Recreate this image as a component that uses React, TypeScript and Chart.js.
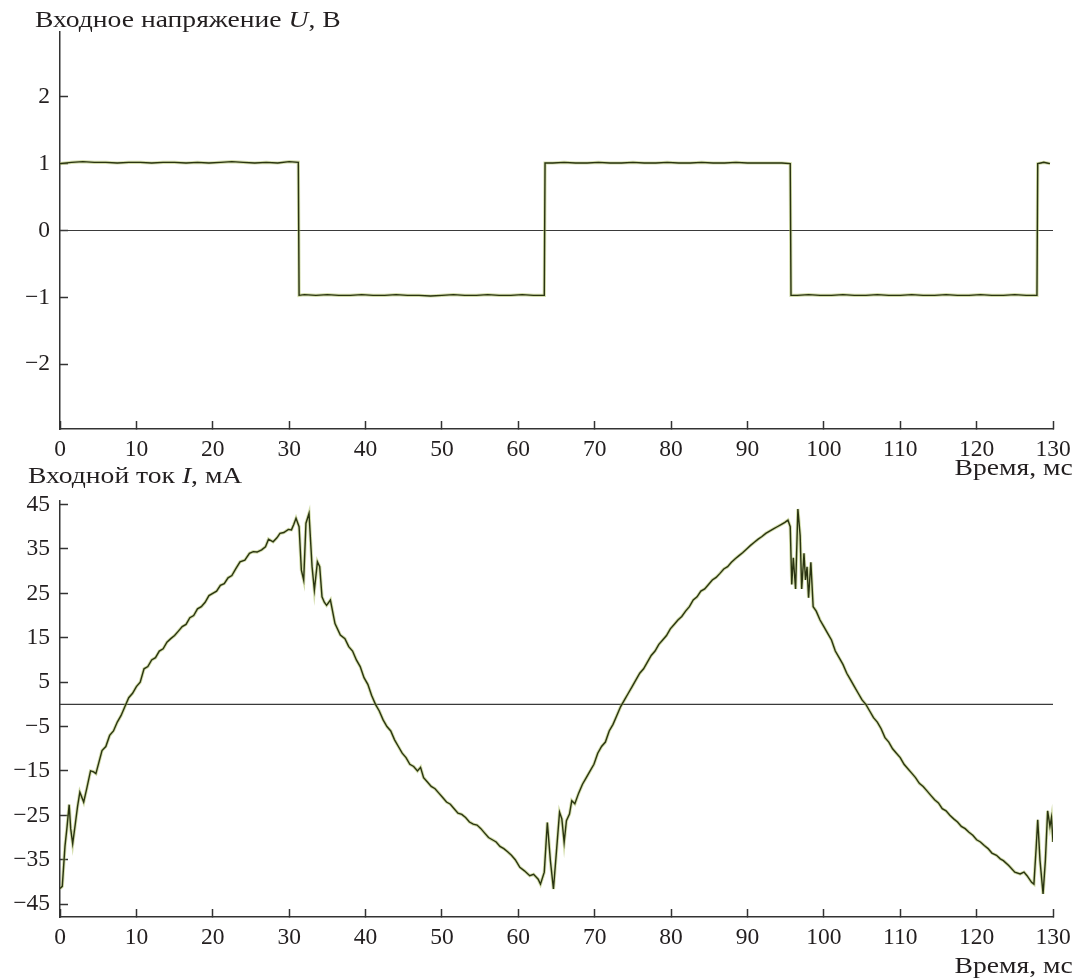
import React, { useEffect, useRef } from "react";
import { Chart, registerables } from "chart.js";

Chart.register(...registerables);

const FONT = "'Liberation Serif', 'Times New Roman', serif";
const TEXT = "#231f20";
const AXIS = "#333333";

const timeTicks = [0, 10, 20, 30, 40, 50, 60, 70, 80, 90, 100, 110, 120, 130];
const voltageTicks = [-2, -1, 0, 1, 2];
const currentTicks = [-45, -35, -25, -15, -5, 5, 15, 25, 35, 45];
const voltageRange = [-2.97, 2.97];
const currentRange = [-47.9, 45.8];

const voltageTime = [
  0, 1.5, 3, 4.5, 6, 7.5, 9, 10.5, 12, 13.5, 15, 16.5, 18, 19.5, 21, 22.5, 24, 25.5, 27, 28.5, 30, 31.2,
  31.3, 32, 33.5, 35, 36.5, 38, 39.5, 41, 42.5, 44, 45.5, 47, 48.5, 50, 51.5, 53, 54.5, 56, 57.5, 59, 60.5, 62, 63.4,
  63.5, 64.5, 66, 67.5, 69, 70.5, 72, 73.5, 75, 76.5, 78, 79.5, 81, 82.5, 84, 85.5, 87, 88.5, 90, 91.5, 93, 94.5, 95.6,
  95.7, 96.5, 98, 99.5, 101, 102.5, 104, 105.5, 107, 108.5, 110, 111.5, 113, 114.5, 116, 117.5, 119, 120.5, 122, 123.5, 125, 126.5, 127.9,
  128.0, 128.4, 128.8, 129.2, 129.6,
];
const voltageValues = [
  1.0, 1.02, 1.03, 1.02, 1.02, 1.01, 1.02, 1.02, 1.01, 1.02, 1.02, 1.01, 1.02, 1.01, 1.02, 1.03, 1.02, 1.01, 1.02, 1.01, 1.03, 1.02,
  -0.97, -0.96, -0.97, -0.96, -0.97, -0.97, -0.96, -0.97, -0.97, -0.96, -0.97, -0.97, -0.98, -0.97, -0.96, -0.97, -0.97, -0.96, -0.97, -0.97, -0.96, -0.97, -0.97,
  1.01, 1.01, 1.02, 1.01, 1.01, 1.02, 1.01, 1.01, 1.02, 1.01, 1.01, 1.02, 1.01, 1.01, 1.02, 1.01, 1.01, 1.02, 1.01, 1.01, 1.01, 1.01, 1.0,
  -0.97, -0.97, -0.96, -0.97, -0.97, -0.96, -0.97, -0.97, -0.96, -0.97, -0.97, -0.96, -0.97, -0.97, -0.96, -0.97, -0.97, -0.96, -0.97, -0.97, -0.96, -0.97, -0.97,
  1.0, 1.01, 1.02, 1.01, 1.0,
];

const currentTime = [
  0, 0.3, 0.65, 0.9, 1.2, 1.4, 1.66, 2.0, 2.3, 2.6, 3.1, 3.5, 4.0, 4.4, 4.7, 5.1, 5.5, 6.0, 6.5, 7.0, 7.5, 8.0, 8.5, 9.0, 9.5,
  10.0, 10.5, 11.0, 11.5, 12.0, 12.5, 13.0, 13.5, 14.0, 14.5, 15.0, 15.5, 16.0, 16.5, 17.0, 17.5, 18.0, 18.5, 19.0, 19.5,
  20.0, 20.5, 21.0, 21.5, 22.0, 22.5, 23.0, 23.57, 24.2, 24.8, 25.3, 25.8, 26.4, 26.9, 27.3, 27.9, 28.4, 28.8, 29.3, 29.9,
  30.3, 30.6, 30.9, 31.3, 31.6, 31.9, 32.2, 32.6, 33.0, 33.3, 33.7, 34.0, 34.3, 34.6, 34.9, 35.4, 36.0, 36.7, 37.3, 37.8,
  38.3, 38.8, 39.3, 39.8, 40.3, 40.8, 41.3, 41.8, 42.3, 42.8, 43.3, 43.8, 44.3, 44.8, 45.3, 45.8, 46.3, 46.8, 47.2, 47.6,
  48.1, 48.6, 49.1, 49.6, 50.1, 50.6, 51.1, 51.6, 52.1, 52.6, 53.1, 53.6, 54.1, 54.6, 55.1, 55.6, 56.1, 56.6, 57.1, 57.6,
  58.1, 58.6, 59.1, 59.6, 60.2, 60.8, 61.5, 62.0, 62.6, 62.9, 63.4, 63.8, 64.2, 64.6, 65.0, 65.4, 65.7, 66.0, 66.3, 66.7,
  67.0, 67.4, 67.9, 68.4, 68.9, 69.4, 69.9, 70.4, 70.9, 71.4, 71.9, 72.4, 72.9, 73.4, 73.9, 74.4, 74.9, 75.4, 75.9, 76.4,
  76.9, 77.4, 77.9, 78.4, 78.9, 79.4, 79.9, 80.4, 80.9, 81.4, 81.9, 82.4, 82.9, 83.4, 83.9, 84.4, 84.9, 85.4, 85.9, 86.4,
  86.9, 87.4, 87.9, 88.4, 88.9, 89.4, 89.9, 90.4, 90.9, 91.4, 91.9, 92.4, 92.9, 93.4, 93.9, 94.4, 94.9, 95.3, 95.6, 95.8,
  96.0, 96.3, 96.6, 96.9, 97.1, 97.4, 97.6, 97.8, 98.0, 98.3, 98.6, 99.0, 99.5, 100.0, 100.5, 101.0, 101.5, 102.0, 102.5, 103.0,
  103.5, 104.0, 104.5, 105.0, 105.5, 106.0, 106.5, 107.0, 107.5, 108.0, 108.5, 109.0, 109.5, 110.0, 110.5, 111.0, 111.5, 112.0, 112.5, 113.0,
  113.5, 114.0, 114.5, 115.0, 115.5, 116.0, 116.5, 117.0, 117.5, 118.0, 118.5, 119.0, 119.5, 120.0, 120.5, 121.0, 121.5, 122.0, 122.6, 123.1,
  123.5, 124.2, 125.0, 125.7, 126.2, 126.6, 127.2, 127.5, 127.8, 128.0, 128.3, 128.7, 129.0, 129.3, 129.6, 129.8, 130.0,
];
const currentValues = [
  -41.5, -41, -32, -28, -22.6, -28, -31.4, -27, -23, -19.8, -22, -19, -15, -15.2, -15.6, -13, -10.4, -9.5, -7, -6, -4, -2.5, -0.5, 1.5, 2.5,
  4, 5, 8, 8.5, 10, 10.5, 12, 12.5, 14, 14.8, 15.5, 16.5, 17.5, 18, 19.5, 20, 21.5, 22, 23, 24.5,
  25, 25.5, 26.8, 27.2, 28.5, 29, 30.5, 32.1, 32.5, 34, 34.4, 34.3, 34.8, 35.5, 37.2, 36.6, 37.5, 38.5, 38.7, 39.4,
  39.3, 40.5, 41.9, 40, 30.2, 28, 40.8, 43, 31, 25.7, 32.1, 31, 24.2, 23, 22.3, 23.5, 18.2, 15.6, 14.8, 13,
  12, 10, 8.5, 6, 4.5, 2, 0, -1.5, -3.5, -5, -6, -8, -9.5, -11, -12, -13.5, -14, -15, -14.2, -16.5,
  -17.5, -18.5, -19, -20, -21, -22, -22.5, -23.5, -24.5, -24.8, -25.5, -26.5, -27, -27.2, -28, -29, -30, -30.5, -31, -32,
  -32.5, -33.2, -34, -35, -36.7, -37.5, -38.6, -38.3, -39.4, -40.5, -37.8, -26.6, -35.2, -41.6, -33, -24.3, -25.8, -31.1, -26.2, -24.7,
  -21.7, -22.4, -20, -18, -16.5, -15, -13.5, -11, -9.5, -8.5, -6, -4.5, -2.5, -0.5, 1, 2.5, 4, 5.5, 7, 8,
  9.5, 11, 12, 13.5, 14.5, 15.5, 17, 18, 19, 19.8, 21, 22, 23.5, 24.2, 25.5, 26, 27, 28, 28.6, 29.5,
  30.5, 31, 32, 32.8, 33.5, 34.2, 35, 35.8, 36.5, 37.2, 37.8, 38.5, 39, 39.5, 40, 40.5, 41, 41.5, 40, 27,
  33, 26, 44, 38, 26, 34, 28, 31, 24, 32, 22, 21, 19, 17.5, 16, 14.5, 12, 10.5, 9, 7,
  5.5, 4, 2.5, 1, 0, -1.5, -3, -4, -5.5, -7.5, -8.5, -10, -11, -12, -13.5, -14.5, -15.5, -16.5, -17.8, -18.5,
  -19.5, -20.5, -21.5, -22.2, -23.5, -24, -25, -25.8, -26.5, -27.5, -28, -28.8, -29.5, -30.5, -31, -31.8, -32.5, -33.5, -34, -34.8,
  -35.2, -36.3, -37.8, -38.2, -37.8, -38.6, -40.1, -40.5, -32.2, -26, -35.2, -42.7, -35.2, -24, -27.5, -25.5, -31,
];

function fmt(v: number): string {
  return v < 0 ? "\u2212" + Math.abs(v) : String(v);
}

function buildConfig(
  times: number[],
  values: number[],
  yTicks: number[],
  range: number[],
  padTop: number,
  areaBottom: number,
  canvasH: number
): any {
  const pts = times.map((t, i) => ({ x: t, y: values[i] }));
  const zero = [
    { x: timeTicks[0], y: 0 },
    { x: timeTicks[timeTicks.length - 1], y: 0 },
  ];
  return {
    type: "line",
    data: {
      datasets: [
        { data: pts, borderColor: "#2a3411", borderWidth: 1.4, pointRadius: 0 },
        { data: pts, borderColor: "rgba(165,185,85,0.5)", borderWidth: 3.2, pointRadius: 0 },
        { data: zero, borderColor: "#3a3a3a", borderWidth: 1.2, pointRadius: 0 },
      ],
    },
    options: {
      responsive: false,
      animation: false,
      layout: { padding: { top: padTop, right: 25, left: 0, bottom: 0 } },
      plugins: { legend: { display: false }, tooltip: { enabled: false }, title: { display: false } },
      scales: {
        x: {
          type: "linear",
          min: timeTicks[0],
          max: timeTicks[timeTicks.length - 1],
          afterBuildTicks: (s: any) => {
            s.ticks = timeTicks.map((v) => ({ value: v }));
          },
          afterFit: (s: any) => {
            s.height = canvasH - areaBottom;
            s.paddingLeft = 0;
            s.paddingRight = 0;
            s.paddingTop = 0;
            s.paddingBottom = 0;
          },
          ticks: {
            font: { family: FONT, size: 23.5 },
            color: TEXT,
            padding: 14.5,
            maxRotation: 0,
            autoSkip: false,
            callback: (v: any) => fmt(Number(v)),
          },
          grid: { drawOnChartArea: false, drawTicks: true, tickLength: -8, tickColor: AXIS, tickWidth: 1.5 },
          border: { display: true, color: AXIS, width: 1.5 },
        },
        y: {
          type: "linear",
          min: range[0],
          max: range[1],
          afterBuildTicks: (s: any) => {
            s.ticks = yTicks.map((v) => ({ value: v }));
          },
          afterFit: (s: any) => {
            s.width = 60;
            s.paddingLeft = 0;
            s.paddingRight = 0;
            s.paddingTop = 0;
            s.paddingBottom = 0;
          },
          ticks: {
            font: { family: FONT, size: 23.5 },
            color: TEXT,
            padding: 18,
            autoSkip: false,
            callback: (v: any) => fmt(Number(v)),
          },
          grid: { drawOnChartArea: false, drawTicks: true, tickLength: -8, tickColor: AXIS, tickWidth: 1.5 },
          border: { display: true, color: AXIS, width: 1.5 },
        },
      },
    },
  };
}

const textStyle: React.CSSProperties = {
  position: "absolute",
  fontFamily: FONT,
  fontSize: 24,
  lineHeight: 1,
  color: TEXT,
  whiteSpace: "nowrap",
};

export default function App() {
  const topRef = useRef<HTMLCanvasElement | null>(null);
  const botRef = useRef<HTMLCanvasElement | null>(null);

  useEffect(() => {
    const c1 = new Chart(
      topRef.current as HTMLCanvasElement,
      buildConfig(voltageTime, voltageValues, voltageTicks, voltageRange, 32, 429, 480)
    );
    const c2 = new Chart(
      botRef.current as HTMLCanvasElement,
      buildConfig(currentTime, currentValues, currentTicks, currentRange, 21, 437, 500)
    );
    return () => {
      c1.destroy();
      c2.destroy();
    };
  }, []);

  const leftText: React.CSSProperties = { ...textStyle, transform: "scaleX(1.15)", transformOrigin: "left top" };
  const rightText: React.CSSProperties = { ...textStyle, transform: "scaleX(1.15)", transformOrigin: "right top" };

  return (
    <div
      style={{
        position: "absolute",
        left: 0,
        top: 0,
        width: 1078,
        height: 980,
        background: "#ffffff",
        overflow: "hidden",
      }}
    >
      <canvas ref={topRef} width={1078} height={480} style={{ position: "absolute", left: 0, top: 0 }} />
      <canvas ref={botRef} width={1078} height={500} style={{ position: "absolute", left: 0, top: 480 }} />
      <div style={{ ...leftText, left: 35, top: 6.5 }}>
        Входное напряжение <i>U</i>, В
      </div>
      <div style={{ ...rightText, right: 5, top: 455 }}>Время, мс</div>
      <div style={{ ...leftText, left: 28, top: 463 }}>
        Входной ток <i>I</i>, мА
      </div>
      <div style={{ ...rightText, right: 5, top: 953 }}>Время, мс</div>
    </div>
  );
}
